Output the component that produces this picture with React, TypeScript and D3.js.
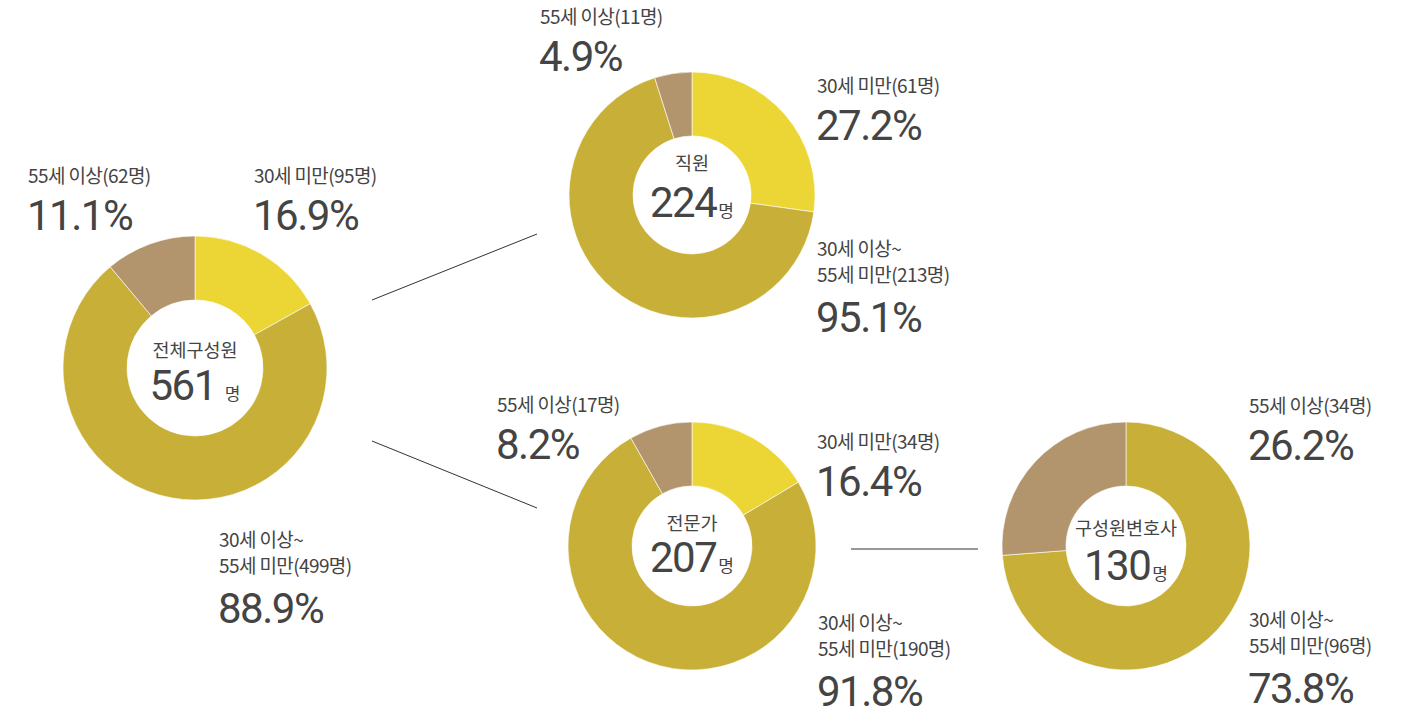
import React, { useEffect, useRef } from 'react';
import * as d3 from 'd3';

// ── data ────────────────────────────────────────────────────────────────────
const groupNames = ['전체구성원', '직원', '전문가', '구성원변호사'];
const groupTotals = [561, 224, 207, 130];

// drawn share of each ring segment (%), clockwise from 12 o'clock
const under30Share = [16.9, 27.2, 16.4, 0];
const midShare = [72.0, 67.9, 75.4, 73.8];
const over55Share = [11.1, 4.9, 8.2, 26.2];

// label values as printed
const under30Count = [95, 61, 34, null];
const midCount = [499, 213, 190, 96];
const over55Count = [62, 11, 17, 34];
const under30Pct = ['16.9%', '27.2%', '16.4%', null];
const midPct = ['88.9%', '95.1%', '91.8%', '73.8%'];
const over55Pct = ['11.1%', '4.9%', '8.2%', '26.2%'];

const COLORS = ['#ecd636', '#c8b038', '#b3956d'];
const TEXT = '#444';
const KR = '"Noto Sans CJK KR", "Noto Sans", sans-serif';
const NUM = 'Roboto, "Noto Sans", sans-serif';

// layout per donut: centre, radii, label anchors [x, baseline of first line]
const LAYOUT = [
  { cx: 195, cy: 368, r: 132, ir: 68, titleY: 357, numY: 400,
    under: [254, 183], over: [28, 183], mid: [219, 547] },
  { cx: 692, cy: 195, r: 123, ir: 59, titleY: 170, numY: 217,
    under: [817, 93], over: [540, 24], mid: [817, 256] },
  { cx: 692, cy: 546, r: 124, ir: 60, titleY: 530, numY: 572,
    under: [817, 449], over: [497, 412], mid: [818, 630] },
  { cx: 1126, cy: 546, r: 124, ir: 60, titleY: 535, numY: 580,
    under: null, over: [1249, 413], mid: [1249, 627] },
];

const CONNECTORS: [number, number, number, number][] = [
  [372, 300, 537, 234],
  [372, 441, 537, 508],
  [851, 549, 978, 549],
];

export default function App() {
  const svgRef = useRef<SVGSVGElement>(null);

  useEffect(() => {
    const svg = d3.select(svgRef.current);
    svg.selectAll('*').remove();

    const pie = d3.pie<number>().sort(null).value(d => d);

    // connector lines
    svg.selectAll('line.conn')
      .data(CONNECTORS)
      .enter().append('line')
      .attr('x1', d => d[0]).attr('y1', d => d[1])
      .attr('x2', d => d[2]).attr('y2', d => d[3])
      .attr('stroke', '#333')
      .attr('stroke-width', 1);

    groupNames.forEach((name, i) => {
      const L = LAYOUT[i];
      const arc = d3.arc<d3.PieArcDatum<number>>().innerRadius(L.ir).outerRadius(L.r);
      const values = [under30Share[i], midShare[i], over55Share[i]];
      const g = svg.append('g').attr('transform', `translate(${L.cx},${L.cy})`);

      g.selectAll('path')
        .data(pie(values))
        .enter().append('path')
        .attr('d', arc)
        .attr('fill', (_, j) => COLORS[j])
        .attr('stroke', d => (d.value > 0 ? '#fff' : 'none'))
        .attr('stroke-width', 0.6);

      // centre labels
      svg.append('text')
        .attr('x', L.cx).attr('y', L.titleY)
        .attr('text-anchor', 'middle')
        .attr('font-family', KR).attr('font-size', 18.5)
        .attr('fill', TEXT)
        .text(name);

      const num = svg.append('text')
        .attr('x', L.cx).attr('y', L.numY)
        .attr('text-anchor', 'middle')
        .attr('fill', TEXT);
      num.append('tspan')
        .attr('font-family', NUM).attr('font-size', 42)
        .attr('letter-spacing', -1.5)
        .text(String(groupTotals[i]));
      num.append('tspan')
        .attr('font-family', KR).attr('font-size', 17)
        .attr('dx', i === 0 ? 9 : 2)
        .text('명');

      // side labels
      const label = (pos: number[] | null, lines: string[], pct: string | null) => {
        if (!pos || !pct) return;
        lines.forEach((t, k) => {
          svg.append('text')
            .attr('x', pos[0]).attr('y', pos[1] + k * 26)
            .attr('font-family', KR).attr('font-size', 19)
            .attr('letter-spacing', -0.6)
            .attr('fill', TEXT)
            .text(t);
        });
        svg.append('text')
          .attr('x', pos[0] - 1).attr('y', pos[1] + (lines.length - 1) * 26 + (lines.length > 1 ? 50 : 47))
          .attr('font-family', NUM).attr('font-size', 42)
          .attr('letter-spacing', -1.5)
          .attr('fill', TEXT)
          .text(pct);
      };

      label(L.under, [`30세 미만(${under30Count[i]}명)`], under30Pct[i]);
      label(L.over, [`55세 이상(${over55Count[i]}명)`], over55Pct[i]);
      label(L.mid, ['30세 이상~', `55세 미만(${midCount[i]}명)`], midPct[i]);
    });
  }, []);

  return (
    <svg
      ref={svgRef}
      width={1417}
      height={714}
      style={{ position: 'absolute', left: 0, top: 0, display: 'block', background: '#fff' }}
    />
  );
}
